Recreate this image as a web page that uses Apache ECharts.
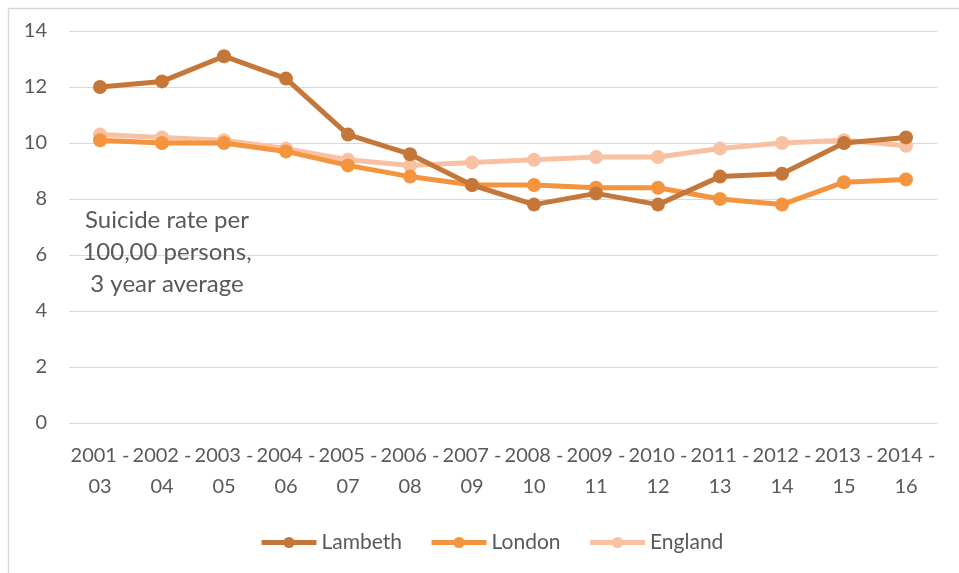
<!DOCTYPE html>
<html>
<head>
<meta charset="utf-8">
<script src="https://cdn.jsdelivr.net/npm/echarts@6/dist/echarts.min.js"></script>
<style>
  html, body { margin: 0; padding: 0; background: #fff; }
  #chart { width: 959px; height: 573px; }
</style>
</head>
<body>
<div id="chart"></div>
<script>
// Three-year periods
const periods = ['2001 - 03', '2002 - 04', '2003 - 05', '2004 - 06', '2005 - 07', '2006 - 08', '2007 - 09',
                 '2008 - 10', '2009 - 11', '2010 - 12', '2011 - 13', '2012 - 14', '2013 - 15', '2014 - 16'];

// Suicide rate, 3 year average
const lambeth = [12.0, 12.2, 13.1, 12.3, 10.3, 9.6, 8.5, 7.8, 8.2, 7.8, 8.8, 8.9, 10.0, 10.2];
const london  = [10.1, 10.0, 10.0, 9.7, 9.2, 8.8, 8.5, 8.5, 8.4, 8.4, 8.0, 7.8, 8.6, 8.7];
const england = [10.3, 10.2, 10.1, 9.8, 9.4, 9.2, 9.3, 9.4, 9.5, 9.5, 9.8, 10.0, 10.1, 9.9];

const seriesNames = ['Lambeth', 'London', 'England'];
const seriesColors = ['#C5773A', '#F5943F', '#F8C2A2'];
const seriesData = [lambeth, london, england];

const FONT = 'Lato, "Open Sans", sans-serif';
const TEXT = '#595959';

const chart = echarts.init(document.getElementById('chart'), null, { renderer: 'canvas' });

chart.setOption({
  animation: false,
  backgroundColor: '#fff',
  textStyle: { fontFamily: FONT },
  grid: { left: 69, right: 22, top: 31, bottom: 150 },
  legend: {
    top: 527,
    left: 254,
    itemWidth: 55,
    itemHeight: 14,
    itemGap: 27,
    lineStyle: { width: 5 },
    textStyle: { color: TEXT, fontSize: 21, fontFamily: FONT },
    data: seriesNames
  },
  xAxis: {
    type: 'category',
    data: periods,
    boundaryGap: true,
    axisLine: { show: false },
    axisTick: { show: false },
    axisLabel: {
      color: TEXT,
      fontSize: 20,
      fontFamily: FONT,
      margin: 17,
      lineHeight: 31,
      interval: 0,
      formatter: v => v.replace(' - ', ' -\n')
    }
  },
  yAxis: {
    type: 'value',
    min: 0,
    max: 14,
    interval: 2,
    axisLine: { show: false },
    axisTick: { show: false },
    axisLabel: { color: TEXT, fontSize: 20, fontFamily: FONT, margin: 22 },
    splitLine: { lineStyle: { color: '#D9D9D9', width: 1 } }
  },
  series: seriesData.map((d, i) => ({
    name: seriesNames[i],
    type: 'line',
    data: d,
    z: 10 - i,
    symbol: 'circle',
    symbolSize: 14,
    lineStyle: { color: seriesColors[i], width: 5 },
    itemStyle: { color: seriesColors[i] }
  })),
  graphic: [
    {
      type: 'rect',
      shape: { x: 8.5, y: 8.5, width: 1000, height: 600 },
      style: { fill: 'none', stroke: '#D9D9D9', lineWidth: 1.5 },
      silent: true,
      z: -1
    },
    {
      type: 'text',
      x: 167,
      y: 252,
      style: {
        text: 'Suicide rate per\n100,00 persons,\n3 year average',
        fill: TEXT,
        font: '24px ' + FONT,
        lineHeight: 32,
        align: 'center',
        verticalAlign: 'middle'
      },
      z: 20
    }
  ]
});
</script>
</body>
</html>
